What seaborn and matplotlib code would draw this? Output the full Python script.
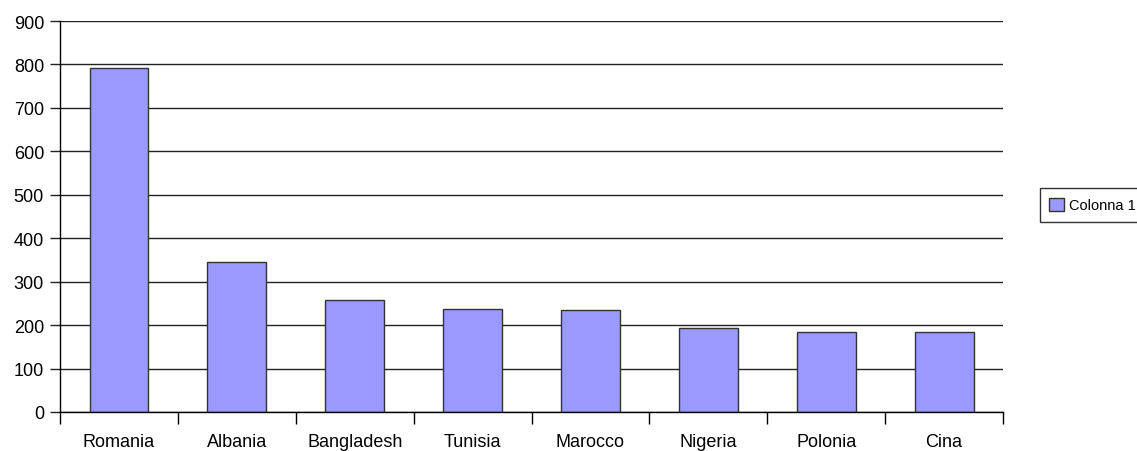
import numpy as np
import pandas as pd
import seaborn as sns
import matplotlib
matplotlib.use('Agg')
from matplotlib import pyplot as plt
from matplotlib.patches import Patch
from matplotlib.ticker import FixedLocator

countries = ['Romania', 'Albania', 'Bangladesh', 'Tunisia', 'Marocco', 'Nigeria', 'Polonia', 'Cina']
values = [792, 345, 257, 237, 234, 193, 185, 183]
series_name = 'Colonna 1'
y_ticks = list(range(0, 1000, 100))

df = pd.DataFrame({'paese': countries, 'valore': values})

sns.set_style("white")
plt.rcParams['font.family'] = ['Liberation Sans', 'DejaVu Sans']
plt.rcParams['text.color'] = 'black'
plt.rcParams['xtick.color'] = 'black'
plt.rcParams['ytick.color'] = 'black'

fig = plt.figure(figsize=(11.37, 4.52), dpi=100)
ax = fig.add_axes([0.0528, 0.0863, 0.8294, 0.865])

# grid first so the bars sit on top
ax.set_axisbelow(True)
ax.yaxis.grid(True, color='#222222', linewidth=1.0)
ax.xaxis.grid(False)

sns.barplot(data=df, x='paese', y='valore', color='#9999FF', saturation=1,
            width=0.5, edgecolor='#333333', linewidth=1.0, ax=ax)

ax.set_xlim(-0.5, len(countries) - 0.5)
ax.set_ylim(0, 900)
ax.set_yticks(y_ticks)
ax.set_xlabel('')
ax.set_ylabel('')

for s in ['top', 'right']:
    ax.spines[s].set_visible(False)
for s in ['left', 'bottom']:
    ax.spines[s].set_color('black')
    ax.spines[s].set_linewidth(1.0)

ax.tick_params(axis='y', which='major', direction='out', length=7.5, width=1.0,
               color='#222222', labelcolor='black', labelsize=13, pad=4, left=True)
ax.tick_params(axis='x', which='major', length=0, labelcolor='black', labelsize=13, pad=15)
# category separators as minor ticks
ax.xaxis.set_minor_locator(FixedLocator(np.arange(-0.5, len(countries), 1.0)))
ax.tick_params(axis='x', which='minor', direction='out', length=8.5, width=1.0,
               color='black', bottom=True)

handle = Patch(facecolor='#9999FF', edgecolor='#333333', linewidth=1.0, label=series_name)
leg = fig.legend(handles=[handle], loc='center left', bbox_to_anchor=(0.9147, 0.544),
                 borderaxespad=0, fontsize=10.5, frameon=True, fancybox=False,
                 handlelength=1.0, handleheight=1.0, handletextpad=0.35, borderpad=0.65)
leg.get_frame().set_edgecolor('black')
leg.get_frame().set_linewidth(1.0)

fig.savefig('out.png', dpi=100)
